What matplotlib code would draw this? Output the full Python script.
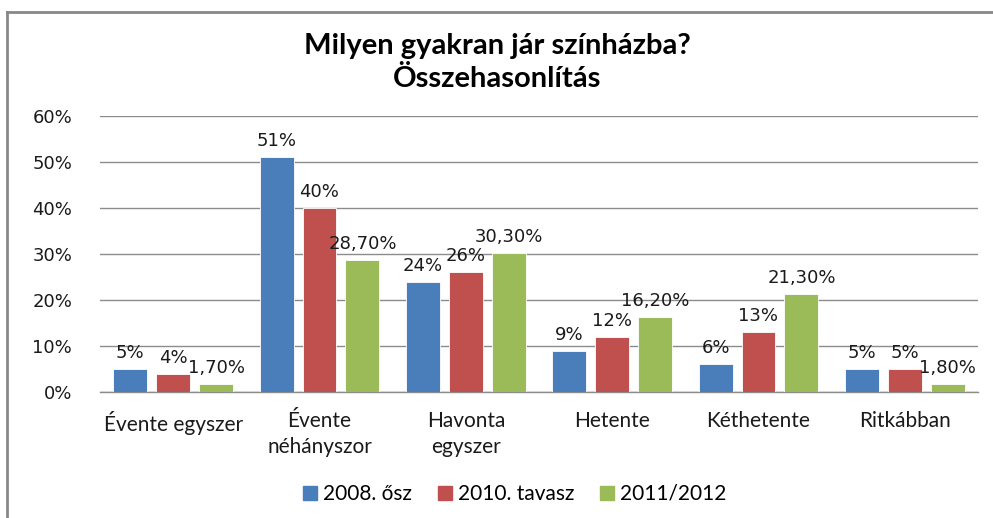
import matplotlib
matplotlib.use("Agg")
import matplotlib.pyplot as plt
from matplotlib.lines import Line2D
import numpy as np

categories = ["Évente egyszer", "Évente\nnéhányszor", "Havonta\negyszer", "Hetente", "Kéthetente", "Ritkábban"]
series_names = ["2008. ősz", "2010. tavasz", "2011/2012"]
s2008 = [5, 51, 24, 9, 6, 5]
s2010 = [4, 40, 26, 12, 13, 5]
s2011 = [1.7, 28.7, 30.3, 16.2, 21.3, 1.8]
labels2008 = ["5%", "51%", "24%", "9%", "6%", "5%"]
labels2010 = ["4%", "40%", "26%", "12%", "13%", "5%"]
labels2011 = ["1,70%", "28,70%", "30,30%", "16,20%", "21,30%", "1,80%"]
colors = ["#4A7EBB", "#C0504D", "#9BBB59"]
yticks = [0, 10, 20, 30, 40, 50, 60]

NARROW = ["Lato", "DejaVu Sans"]

fig = plt.figure(figsize=(9.93, 5.18), dpi=100)
ax = fig.add_axes([100/993, 1-392/518, 878/993, (392-116)/518])

x = np.arange(len(categories))
width = 0.232
step = 0.293
all_vals = [s2008, s2010, s2011]
all_labels = [labels2008, labels2010, labels2011]
for k, (vals, labs) in enumerate(zip(all_vals, all_labels)):
    pos = x + (k - 1) * step
    ax.bar(pos, vals, width, color=colors[k], edgecolor="white", linewidth=0.6, zorder=3)
    for p, v, t in zip(pos, vals, labs):
        ax.annotate(t, (p, v), xytext=(0, 7), textcoords="offset pixels",
                    ha="center", va="bottom", fontsize=13, family="DejaVu Sans",
                    color="#1a1a1a", zorder=5)

ax.set_xlim(-0.5, len(categories) - 0.5)
ax.set_ylim(0, 60)
ax.set_yticks(yticks)
ax.set_yticklabels([f"{t}%" for t in yticks], fontsize=13, family="DejaVu Sans", color="#1a1a1a")
ax.set_xticks(x)
ax.set_xticklabels(categories, fontsize=15, family=NARROW, color="#1a1a1a",
                   va="top", linespacing=1.35)
ax.tick_params(axis="both", length=0)
ax.tick_params(axis="y", pad=20)
ax.tick_params(axis="x", pad=14)
ax.yaxis.grid(True, color="#8c8c8c", linewidth=1.0, zorder=0)
ax.set_axisbelow(True)
for s in ["top", "right", "left"]:
    ax.spines[s].set_visible(False)
ax.spines["bottom"].set_color("#8c8c8c")
ax.spines["bottom"].set_linewidth(1.0)

fig.text(497/993, 1-46/518, "Milyen gyakran jár színházba?", ha="center", va="center",
         fontsize=21, fontweight="bold", family=NARROW)
fig.text(497/993, 1-79/518, "Összehasonlítás", ha="center", va="center",
         fontsize=21, fontweight="bold", family=NARROW)

handles = [Line2D([0], [0], marker="s", linestyle="none", markersize=10, markerfacecolor=c,
                  markeredgecolor=c) for c in colors]
fig.legend(handles, series_names, loc="center", bbox_to_anchor=(513/993, 1-494/518), ncol=3,
           frameon=False, prop={"family": NARROW, "size": 15},
           handletextpad=0.1, columnspacing=1.1, handlelength=1.0)

# chart area border (top and left visible)
fig.add_artist(Line2D([7/993, 1.0], [1-12/518, 1-12/518], color="#888888", linewidth=2, transform=fig.transFigure))
fig.add_artist(Line2D([7/993, 7/993], [1-12/518, 0], color="#888888", linewidth=2, transform=fig.transFigure))

fig.savefig("out.png", dpi=100)
